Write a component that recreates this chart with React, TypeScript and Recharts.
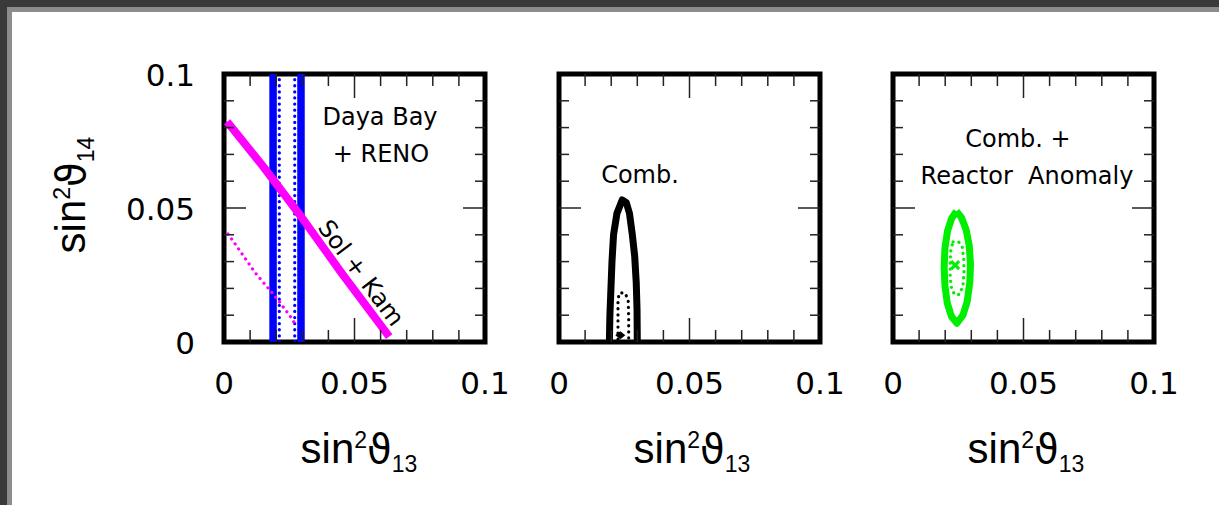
import { ScatterChart, Scatter, XAxis, YAxis, ReferenceArea } from "recharts";

// axis ticks (every 0.01, labels at 0, 0.05, 0.1)
const ticks = [0, 0.01, 0.02, 0.03, 0.04, 0.05, 0.06, 0.07, 0.08, 0.09, 0.1];
const labelTicks = [0, 0.05, 0.1];
const tickText = ["0", "0.05", "0.1"];

// panel 1: Daya Bay + RENO bands, Sol + Kam line
const dbBands = [0.0188, 0.0295];
const dbDotted = [0.0212, 0.0271];
const solKam = [
  { x: 0.0012, y: 0.0822 },
  { x: 0.015, y: 0.0655 },
  { x: 0.0291, y: 0.0474 },
  { x: 0.045, y: 0.0258 },
  { x: 0.0633, y: 0.002 },
];
const solKamDotted = [
  { x: 0.0015, y: 0.0403 },
  { x: 0.0039, y: 0.0371 },
  { x: 0.0074, y: 0.0322 },
  { x: 0.0119, y: 0.0259 },
  { x: 0.017, y: 0.02 },
  { x: 0.0205, y: 0.0159 },
  { x: 0.0253, y: 0.0097 },
  { x: 0.0279, y: 0.0057 },
];

// panel 2: combined
const combOuter = [
  { x: 0.0193, y: 0 },
  { x: 0.0195, y: 0.01 },
  { x: 0.0199, y: 0.02 },
  { x: 0.0203, y: 0.03 },
  { x: 0.0209, y: 0.04 },
  { x: 0.0222, y: 0.048 },
  { x: 0.0242, y: 0.053 },
  { x: 0.0258, y: 0.052 },
  { x: 0.027, y: 0.048 },
  { x: 0.0281, y: 0.04 },
  { x: 0.029, y: 0.032 },
  { x: 0.0296, y: 0.022 },
  { x: 0.0299, y: 0.012 },
  { x: 0.03, y: 0 },
];
const combInner = [
  { x: 0.0226, y: 0.001 },
  { x: 0.0226, y: 0.009 },
  { x: 0.0226, y: 0.016 },
  { x: 0.0232, y: 0.0183 },
  { x: 0.0252, y: 0.0183 },
  { x: 0.0265, y: 0.016 },
  { x: 0.0267, y: 0.009 },
  { x: 0.0267, y: 0.001 },
];
const combBest = [{ x: 0.0235, y: 0.0025 }];

// panel 3: combined + reactor anomaly
const raOuter = [
  { x: 0.0243, y: 0.0488 },
  { x: 0.0262, y: 0.0465 },
  { x: 0.028, y: 0.042 },
  { x: 0.0292, y: 0.036 },
  { x: 0.0297, y: 0.029 },
  { x: 0.0294, y: 0.022 },
  { x: 0.0284, y: 0.015 },
  { x: 0.0268, y: 0.01 },
  { x: 0.0245, y: 0.007 },
  { x: 0.0224, y: 0.0095 },
  { x: 0.0208, y: 0.0145 },
  { x: 0.0199, y: 0.021 },
  { x: 0.0196, y: 0.028 },
  { x: 0.0199, y: 0.035 },
  { x: 0.0209, y: 0.0415 },
  { x: 0.0225, y: 0.0462 },
  { x: 0.0243, y: 0.0488 },
];
const raInner = [
  { x: 0.023, y: 0.0374 },
  { x: 0.0251, y: 0.0374 },
  { x: 0.0265, y: 0.0355 },
  { x: 0.0271, y: 0.031 },
  { x: 0.0272, y: 0.026 },
  { x: 0.0268, y: 0.021 },
  { x: 0.0255, y: 0.0178 },
  { x: 0.0238, y: 0.0175 },
  { x: 0.0225, y: 0.0195 },
  { x: 0.0219, y: 0.024 },
  { x: 0.0219, y: 0.029 },
  { x: 0.0221, y: 0.034 },
  { x: 0.023, y: 0.0374 },
];
const raBest = [{ x: 0.0238, y: 0.0287 }];

const PW = 261;
const PH = 268;
const M = { top: 20, right: 40, bottom: 59, left: 99 };
const tickFont = "'DejaVu Sans', sans-serif";
const titleFont = "'Liberation Sans', Arial, sans-serif";

const isEdge = (v: number) => v === 0 || v === 0.1;
const labelOf = (v: number) => {
  const i = labelTicks.indexOf(v);
  return i >= 0 ? tickText[i] : null;
};

const BottomTick = (props: any) => {
  const { x, y, payload } = props;
  const v = payload.value;
  const len = v === 0.05 ? 24 : 12;
  const lbl = labelOf(v);
  return (
    <g>
      {!isEdge(v) && (
        <>
          <line x1={x} y1={y} x2={x} y2={y - len} stroke="#222" strokeWidth={1.5} />
          <line x1={x} y1={y - PH} x2={x} y2={y - PH + len} stroke="#222" strokeWidth={1.5} />
        </>
      )}
      {lbl && (
        <text x={x} y={y + 52} textAnchor="middle" fontFamily={tickFont} fontSize={31} fill="#000">
          {lbl}
        </text>
      )}
    </g>
  );
};

const makeLeftTick = (showLabel: boolean) => (props: any) => {
  const { x, y, payload } = props;
  const v = payload.value;
  const len = v === 0.05 ? 22 : 10;
  const lbl = showLabel ? labelOf(v) : null;
  return (
    <g>
      {!isEdge(v) && (
        <>
          <line x1={x} y1={y} x2={x + len} y2={y} stroke="#222" strokeWidth={1.5} />
          <line x1={x + PW} y1={y} x2={x + PW - len} y2={y} stroke="#222" strokeWidth={1.5} />
        </>
      )}
      {lbl && (
        <text x={x - 29} y={y + 12} textAnchor="end" fontFamily={tickFont} fontSize={31} fill="#000">
          {lbl}
        </text>
      )}
    </g>
  );
};

const noDot = () => <g />;

const Cross = (props: any) => {
  const { cx, cy } = props;
  return (
    <g stroke="#00ee00" strokeWidth={3}>
      <line x1={cx - 4} y1={cy - 4} x2={cx + 4} y2={cy + 4} />
      <line x1={cx - 4} y1={cy + 4} x2={cx + 4} y2={cy - 4} />
    </g>
  );
};

const Diamond = (props: any) => {
  const { cx, cy } = props;
  return <polygon points={`${cx},${cy - 4} ${cx + 5},${cy} ${cx},${cy + 4} ${cx - 5},${cy}`} fill="#000" />;
};

const vline = (x: number) => [
  { x, y: 0 },
  { x, y: 0.1 },
];

function Panel({ left, showY, children }: { left: number; showY: boolean; children: any }) {
  return (
    <div style={{ position: "absolute", left: left - M.left - 1, top: 74 - M.top }}>
      <ScatterChart width={M.left + 1 + PW + M.right} height={M.top + PH + 1 + M.bottom} margin={M}>
        <XAxis
          type="number"
          dataKey="x"
          domain={[0, 0.1]}
          ticks={ticks}
          interval={0}
          height={1}
          tickSize={0}
          tickMargin={0}
          axisLine={false}
          allowDataOverflow
          tick={<BottomTick />}
        />
        <YAxis
          type="number"
          dataKey="y"
          domain={[0, 0.1]}
          ticks={ticks}
          interval={0}
          width={1}
          tickSize={0}
          tickMargin={0}
          axisLine={false}
          allowDataOverflow
          tick={makeLeftTick(showY)}
        />
        {children}
        <ReferenceArea
          x1={0}
          x2={0.1}
          y1={0}
          y2={0.1}
          fill="none"
          stroke="#000"
          strokeWidth={5}
          fillOpacity={0}
          ifOverflow="visible"
        />
      </ScatterChart>
    </div>
  );
}

const lineSeries = (key: string, data: any[], stroke: string, width: number, dotted: boolean) => (
  <Scatter
    key={key}
    data={data}
    isAnimationActive={false}
    shape={noDot}
    line={{
      stroke,
      strokeWidth: width,
      strokeDasharray: dotted ? "0.1 6" : undefined,
      strokeLinecap: dotted ? "round" : "butt",
      strokeLinejoin: "round",
    }}
  />
);

function Title({ x, y, sub, rotate }: { x: number; y: number; sub: string; rotate?: boolean }) {
  return (
    <text
      x={x}
      y={y}
      textAnchor="middle"
      fontFamily={titleFont}
      fontSize={42}
      fill="#000"
      transform={rotate ? `rotate(-90 ${x} ${y})` : undefined}
    >
      sin
      <tspan fontSize={23} dy={-15}>2</tspan>
      <tspan dy={15} fontFamily={tickFont} fontSize={40}>ϑ</tspan>
      <tspan fontSize={23} dy={9}>{sub}</tspan>
    </text>
  );
}

export default function App() {
  const lbl = { fontFamily: tickFont, fontSize: 24, fill: "#000" } as const;
  return (
    <div style={{ position: "absolute", left: 0, top: 0, width: 1219, height: 505, background: "#fff", overflow: "hidden" }}>
      <div style={{ position: "absolute", left: 0, top: 0, width: 1219, height: 7, background: "#3a3a3a" }} />
      <div style={{ position: "absolute", left: 0, top: 0, width: 7, height: 505, background: "#3a3a3a" }} />
      <div style={{ position: "absolute", left: 7, top: 7, width: 1212, height: 5, background: "#8c8c8c" }} />
      <div style={{ position: "absolute", left: 7, top: 7, width: 5, height: 498, background: "#8c8c8c" }} />

      <Panel left={224} showY>
        {dbBands.map((b, i) => lineSeries(`band${i}`, vline(b), "#0000ff", 7.5, false))}
        {dbDotted.map((b, i) => lineSeries(`dot${i}`, vline(b), "#0000ff", 3.2, true))}
        {lineSeries("solkamDot", solKamDotted, "#ff00ff", 3.2, true)}
        {lineSeries("solkam", solKam, "#ff00ff", 8, false)}
      </Panel>

      <Panel left={559} showY={false}>
        {lineSeries("combOuter", combOuter, "#000", 7, false)}
        {lineSeries("combInner", combInner, "#000", 3.2, true)}
        <Scatter data={combBest} isAnimationActive={false} shape={Diamond} />
      </Panel>

      <Panel left={893} showY={false}>
        {lineSeries("raOuter", raOuter, "#00ee00", 7, false)}
        {lineSeries("raInner", raInner, "#00ee00", 3.2, true)}
        <Scatter data={raBest} isAnimationActive={false} shape={Cross} />
      </Panel>

      <svg width={1219} height={505} style={{ position: "absolute", left: 0, top: 0, pointerEvents: "none" }}>
        <text x={380} y={125} textAnchor="middle" {...lbl}>Daya Bay</text>
        <text x={381} y={162} textAnchor="middle" {...lbl}>+ RENO</text>
        <text x={361} y={273} textAnchor="middle" dominantBaseline="central" transform="rotate(53 361 273)" {...lbl}>
          Sol + Kam
        </text>
        <text x={640} y={183} textAnchor="middle" {...lbl}>Comb.</text>
        <text x={1018} y={147} textAnchor="middle" {...lbl}>Comb. +</text>
        <text x={1027} y={184} textAnchor="middle" {...lbl} xmlSpace="preserve">Reactor  Anomaly</text>

        <Title x={359} y={463} sub="13" />
        <Title x={692} y={463} sub="13" />
        <Title x={1026} y={463} sub="13" />
        <Title x={85} y={195} sub="14" rotate />
      </svg>
    </div>
  );
}
